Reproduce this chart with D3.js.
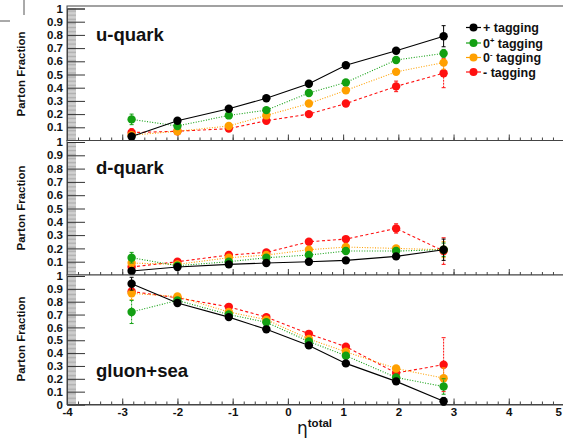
<!DOCTYPE html>
<html><head><meta charset="utf-8">
<script src="https://cdn.jsdelivr.net/npm/d3@7"></script>
<style>body{margin:0;background:#fff}svg{display:block;font-family:"Liberation Sans",Arial,sans-serif;font-weight:bold}</style>
</head><body>
<svg id="c" width="563" height="444"></svg>
<script>
const etaValues = [-2.83, -2.0, -1.07, -0.39, 0.38, 1.05, 1.96, 2.82];
const panelNames = ["u-quark", "d-quark", "gluon+sea"];
const seriesNames = ["+ tagging", "0+ tagging", "0- tagging", "- tagging"];
const yTickValues = [0, 0.1, 0.2, 0.3, 0.4, 0.5, 0.6, 0.7, 0.8, 0.9, 1];
const xTickValues = [-4, -3, -2, -1, 0, 1, 2, 3, 4, 5];

// u-quark
const uPlus      = [0.03, 0.15, 0.24, 0.32, 0.43, 0.57, 0.68, 0.79];
const uZeroPlus  = [0.16, 0.11, 0.19, 0.23, 0.36, 0.44, 0.61, 0.66];
const uZeroMinus = [0.04, 0.07, 0.11, 0.19, 0.28, 0.38, 0.52, 0.59];
const uMinus     = [0.06, 0.07, 0.09, 0.15, 0.20, 0.28, 0.41, 0.51];
const uPlusErr      = [0.02, 0.015, 0.015, 0.015, 0.015, 0.015, 0.02, 0.08];
const uZeroPlusErr  = [0.04, 0.015, 0.015, 0.015, 0.015, 0.015, 0.02, 0.03];
const uZeroMinusErr = [0.02, 0.015, 0.015, 0.015, 0.015, 0.015, 0.02, 0.05];
const uMinusErr     = [0.03, 0.015, 0.015, 0.015, 0.015, 0.015, 0.04, 0.11];

// d-quark
const dPlus      = [0.03, 0.06, 0.08, 0.09, 0.10, 0.11, 0.14, 0.19];
const dZeroPlus  = [0.13, 0.07, 0.10, 0.13, 0.15, 0.18, 0.18, 0.19];
const dZeroMinus = [0.09, 0.08, 0.13, 0.15, 0.19, 0.21, 0.20, 0.19];
const dMinus     = [0.06, 0.10, 0.15, 0.17, 0.25, 0.27, 0.35, 0.18];
const dPlusErr      = [0.02, 0.01, 0.01, 0.01, 0.01, 0.01, 0.01, 0.08];
const dZeroPlusErr  = [0.04, 0.01, 0.01, 0.01, 0.015, 0.015, 0.02, 0.05];
const dZeroMinusErr = [0.03, 0.01, 0.01, 0.01, 0.015, 0.015, 0.02, 0.06];
const dMinusErr     = [0.03, 0.015, 0.015, 0.015, 0.02, 0.02, 0.035, 0.10];

// gluon+sea
const gPlus      = [0.94, 0.79, 0.68, 0.585, 0.46, 0.32, 0.18, 0.025];
const gZeroPlus  = [0.72, 0.81, 0.70, 0.64, 0.49, 0.38, 0.21, 0.14];
const gZeroMinus = [0.865, 0.84, 0.72, 0.66, 0.51, 0.41, 0.28, 0.205];
const gMinus     = [0.88, 0.83, 0.76, 0.68, 0.55, 0.45, 0.245, 0.31];
const gPlusErr      = [0.05, 0.015, 0.015, 0.015, 0.015, 0.015, 0.02, 0.03];
const gZeroPlusErr  = [0.09, 0.015, 0.015, 0.015, 0.015, 0.015, 0.02, 0.06];
const gZeroMinusErr = [0.05, 0.015, 0.015, 0.015, 0.015, 0.015, 0.02, 0.08];
const gMinusErr     = [0.04, 0.015, 0.015, 0.015, 0.015, 0.02, 0.03, 0.21];

const seriesStyle = [
  {color: "#000000", dash: null},
  {color: "#13a013", dash: "1,1.6"},
  {color: "#ffa000", dash: "1,1.6"},
  {color: "#ff1010", dash: "3,2.5"}
];

const panels = [
  {name: panelNames[0], frameTop: 6, y1: 8.5, y0: 140.5, labelY: 41, titleY: 74, showZero: false,
   vals: [uPlus, uZeroPlus, uZeroMinus, uMinus], errs: [uPlusErr, uZeroPlusErr, uZeroMinusErr, uMinusErr]},
  {name: panelNames[1], frameTop: 140.5, y1: 142, y0: 275, labelY: 174, titleY: 208, showZero: false,
   vals: [dPlus, dZeroPlus, dZeroMinus, dMinus], errs: [dPlusErr, dZeroPlusErr, dZeroMinusErr, dMinusErr]},
  {name: panelNames[2], frameTop: 275, y1: 276, y0: 404.5, labelY: 377, titleY: 339, showZero: true,
   vals: [gPlus, gZeroPlus, gZeroMinus, gMinus], errs: [gPlusErr, gZeroPlusErr, gZeroMinusErr, gMinusErr]}
];

const svg = d3.select("#c");
const x = d3.scaleLinear().domain([-4, 5]).range([67, 564]);

// small artifacts at top-left
svg.append("line").attr("x1", 24).attr("x2", 24).attr("y1", 0).attr("y2", 15).attr("stroke", "#555");
svg.append("line").attr("x1", 0).attr("x2", 10).attr("y1", 21).attr("y2", 21).attr("stroke", "#555");

const minorX = d3.range(-40, 51, 2).map(d => d / 10);
const minorY = d3.range(0, 101).map(d => d / 100);

panels.forEach((p, pi) => {
  const y = d3.scaleLinear().domain([0, 1]).range([p.y0, p.y1]);
  const g = svg.append("g");
  g.append("rect").attr("x", x(-4)).attr("y", p.frameTop)
    .attr("width", x(5) - x(-4)).attr("height", p.y0 - p.frameTop)
    .attr("fill", "#fff").attr("stroke", "#444").attr("stroke-width", 1);

  // y minor ticks
  const yMinor = g.append("g").attr("transform", `translate(${x(-4)},0)`)
    .call(d3.axisLeft(y).tickValues(minorY).tickSize(-9).tickFormat(""));
  yMinor.select(".domain").remove();
  yMinor.selectAll("line").attr("stroke", "#9a9a9a").attr("stroke-width", 0.8);

  const yMajor = g.append("g").attr("transform", `translate(${x(-4)},0)`)
    .call(d3.axisLeft(y).tickValues(yTickValues).tickSize(-18).tickPadding(4)
      .tickFormat(d => d === 0 ? (p.showZero ? "0" : "") : d === 1 ? "1" : d.toFixed(1)));
  yMajor.select(".domain").attr("stroke", "#444");
  yMajor.selectAll("line").attr("stroke", "#333");
  yMajor.selectAll("text").attr("font-size", 11.5).attr("font-weight", "bold")
    .attr("font-family", "Liberation Sans, Arial, sans-serif").attr("fill", "#111");

  // x ticks
  const xMinor = g.append("g").attr("transform", `translate(0,${p.y0})`)
    .call(d3.axisBottom(x).tickValues(minorX).tickSize(-3).tickFormat(""));
  xMinor.select(".domain").remove();
  xMinor.selectAll("line").attr("stroke", "#444");
  const xMajor = g.append("g").attr("transform", `translate(0,${p.y0})`)
    .call(d3.axisBottom(x).tickValues(xTickValues).tickSize(-6).tickPadding(pi === 2 ? 3 : 0)
      .tickFormat(d => pi === 2 ? String(d) : ""));
  xMajor.select(".domain").attr("stroke", "#444");
  xMajor.selectAll("line").attr("stroke", "#444");
  xMajor.selectAll("text").attr("font-size", 11.5).attr("font-weight", "bold")
    .attr("font-family", "Liberation Sans, Arial, sans-serif").attr("fill", "#111")
    .attr("text-anchor", d => d === 5 ? "end" : "middle")
    .attr("dx", d => d === 5 ? -2.5 : 0);

  // y title
  svg.append("text").attr("transform", `translate(25,${p.titleY}) rotate(-90)`)
    .attr("text-anchor", "middle").attr("font-size", 11.5).attr("fill", "#111")
    .text("Parton Fraction");

  // panel label
  g.append("text").attr("x", 96).attr("y", p.labelY).attr("font-size", 18.5).attr("fill", "#111")
    .text(p.name);

  // series (draw red first, black last)
  [3, 2, 1, 0].forEach(si => {
    const st = seriesStyle[si];
    const pts = etaValues.map((e, i) => ({e, v: p.vals[si][i], err: p.errs[si][i]}));
    const line = d3.line().x(d => x(d.e)).y(d => y(d.v));
    g.append("path").attr("d", line(pts)).attr("fill", "none")
      .attr("stroke", st.color).attr("stroke-width", 1.1)
      .attr("stroke-dasharray", st.dash);
    pts.forEach(d => {
      const eg = g.append("g").attr("stroke", st.color).attr("stroke-width", 1);
      eg.append("line").attr("x1", x(d.e)).attr("x2", x(d.e))
        .attr("y1", y(d.v - d.err)).attr("y2", y(d.v + d.err)).attr("stroke-dasharray", st.dash ? "2,1" : null);
      if (d.err > 0.025) {
        eg.append("line").attr("x1", x(d.e) - 2).attr("x2", x(d.e) + 2)
          .attr("y1", y(d.v + d.err)).attr("y2", y(d.v + d.err));
        eg.append("line").attr("x1", x(d.e) - 2).attr("x2", x(d.e) + 2)
          .attr("y1", y(d.v - d.err)).attr("y2", y(d.v - d.err));
      }
    });
    g.selectAll(null).data(pts).enter().append("circle")
      .attr("cx", d => x(d.e)).attr("cy", d => y(d.v)).attr("r", 4.2)
      .attr("fill", st.color);
  });
});

// legend (in top panel)
const legend = svg.append("g");
const legY = [27.5, 43, 57.5, 72];
seriesNames.forEach((name, i) => {
  const st = seriesStyle[i];
  legend.append("line").attr("x1", 466).attr("x2", 481).attr("y1", legY[i]).attr("y2", legY[i])
    .attr("stroke", st.color).attr("stroke-width", 1.2);
  legend.append("circle").attr("cx", 473.5).attr("cy", legY[i]).attr("r", 4).attr("fill", st.color);
  const t = legend.append("text").attr("x", 483).attr("y", legY[i] + 4.5)
    .attr("font-size", 12.5).attr("fill", "#111");
  if (i === 1 || i === 2) {
    t.append("tspan").text("0");
    t.append("tspan").attr("dy", -5).attr("font-size", 7.5).text(i === 1 ? "+" : "-");
    t.append("tspan").attr("dy", 5).text(" tagging");
  } else {
    t.text(name);
  }
});

// x title
const xt = svg.append("text").attr("x", 297).attr("y", 434).attr("fill", "#111");
xt.append("tspan").attr("font-size", 17).attr("font-weight", "normal")
  .attr("font-family", "DejaVu Sans, sans-serif").text("η");
xt.append("tspan").attr("dy", -7).attr("font-size", 11.5).text("total");
</script>
</body></html>
